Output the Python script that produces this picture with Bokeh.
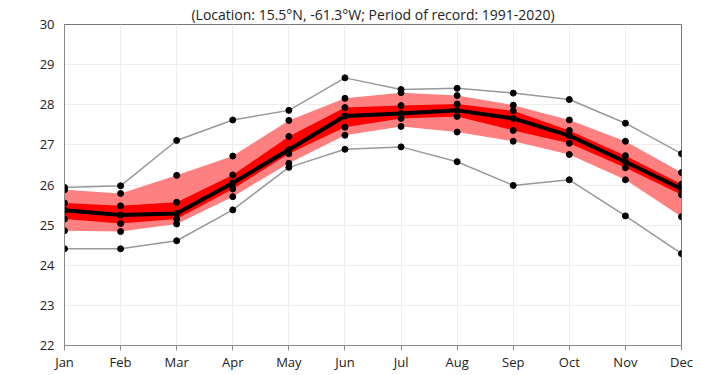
from bokeh.plotting import figure
from bokeh.models import Range1d, FixedTicker, ColumnDataSource
from bokeh.embed import file_html
from bokeh.resources import INLINE

months = ["Jan", "Feb", "Mar", "Apr", "May", "Jun", "Jul", "Aug", "Sep", "Oct", "Nov", "Dec"]
t_max = [25.94, 25.98, 27.11, 27.62, 27.86, 28.67, 28.38, 28.41, 28.29, 28.13, 27.54, 26.78]
p_high = [25.88, 25.79, 26.24, 26.72, 27.61, 28.16, 28.30, 28.23, 27.99, 27.62, 27.09, 26.31]
q_high = [25.55, 25.48, 25.57, 26.25, 27.21, 27.93, 27.98, 28.02, 27.85, 27.36, 26.73, 26.02]
t_mean = [25.37, 25.25, 25.29, 26.05, 26.88, 27.72, 27.78, 27.86, 27.66, 27.23, 26.58, 25.90]
q_low = [25.15, 25.04, 25.15, 25.90, 26.78, 27.44, 27.66, 27.71, 27.36, 27.04, 26.43, 25.76]
p_low = [24.86, 24.84, 25.03, 25.71, 26.54, 27.24, 27.46, 27.32, 27.09, 26.76, 26.13, 25.21]
t_min = [24.41, 24.41, 24.61, 25.38, 26.44, 26.89, 26.95, 26.58, 25.99, 26.13, 25.23, 24.29]
y_ticks = [22, 23, 24, 25, 26, 27, 28, 29, 30]
title_text = "(Location: 15.5\u00b0N, -61.3\u00b0W; Period of record: 1991-2020)"

x = list(range(len(months)))
src = ColumnDataSource(dict(x=x, t_max=t_max, p_high=p_high, q_high=q_high, t_mean=t_mean,
                            q_low=q_low, p_low=p_low, t_min=t_min))

FONT = "Open Sans"

p = figure(width=702, height=367, output_backend="svg", toolbar_location=None,
           x_range=Range1d(0, 11), y_range=Range1d(22, 30),
           frame_width=617, frame_height=321,
           min_border_left=64, min_border_right=21, min_border_top=24, min_border_bottom=22)

p.title.text = title_text
p.title.align = "center"
p.title.text_font = FONT
p.title.text_font_size = "14px"
p.title.text_font_style = "normal"
p.title.text_color = "#222222"
p.title.standoff = 2

p.outline_line_color = "#777777"
p.outline_line_width = 1
p.background_fill_color = "white"
p.border_fill_color = "white"

p.xgrid.ticker = FixedTicker(ticks=x)
p.ygrid.ticker = FixedTicker(ticks=y_ticks)
p.xgrid.grid_line_color = "#eeeeee"
p.ygrid.grid_line_color = "#eeeeee"

p.xaxis.ticker = FixedTicker(ticks=x)
p.xaxis.major_label_overrides = {i: m for i, m in enumerate(months)}
p.yaxis.ticker = FixedTicker(ticks=y_ticks)
for ax in (p.xaxis[0], p.yaxis[0]):
    ax.axis_line_color = "#888888"
    ax.major_tick_line_color = "#888888"
    ax.minor_tick_line_color = None
    ax.major_label_text_font = FONT
    ax.major_label_text_font_size = "13px"
    ax.major_label_text_color = "#222222"
p.xaxis.major_tick_out = 5
p.xaxis.major_tick_in = 0
p.xaxis.major_label_standoff = 2
p.yaxis.major_tick_out = 0
p.yaxis.major_tick_in = 0
p.yaxis.major_label_standoff = 10

p.varea(x="x", y1="p_low", y2="p_high", source=src, fill_color="#ff8080", fill_alpha=1.0)
p.varea(x="x", y1="q_low", y2="q_high", source=src, fill_color="#ff0000", fill_alpha=1.0)
p.line(x="x", y="t_max", source=src, line_color="#999999", line_width=1.5)
p.line(x="x", y="t_min", source=src, line_color="#999999", line_width=1.5)
p.line(x="x", y="t_mean", source=src, line_color="black", line_width=4)
for col in ["t_max", "p_high", "q_high", "t_mean", "q_low", "p_low", "t_min"]:
    p.scatter(x="x", y=col, source=src, size=6, fill_color="black", line_color="black")

open("out.html", "w").write(file_html(p, INLINE))
